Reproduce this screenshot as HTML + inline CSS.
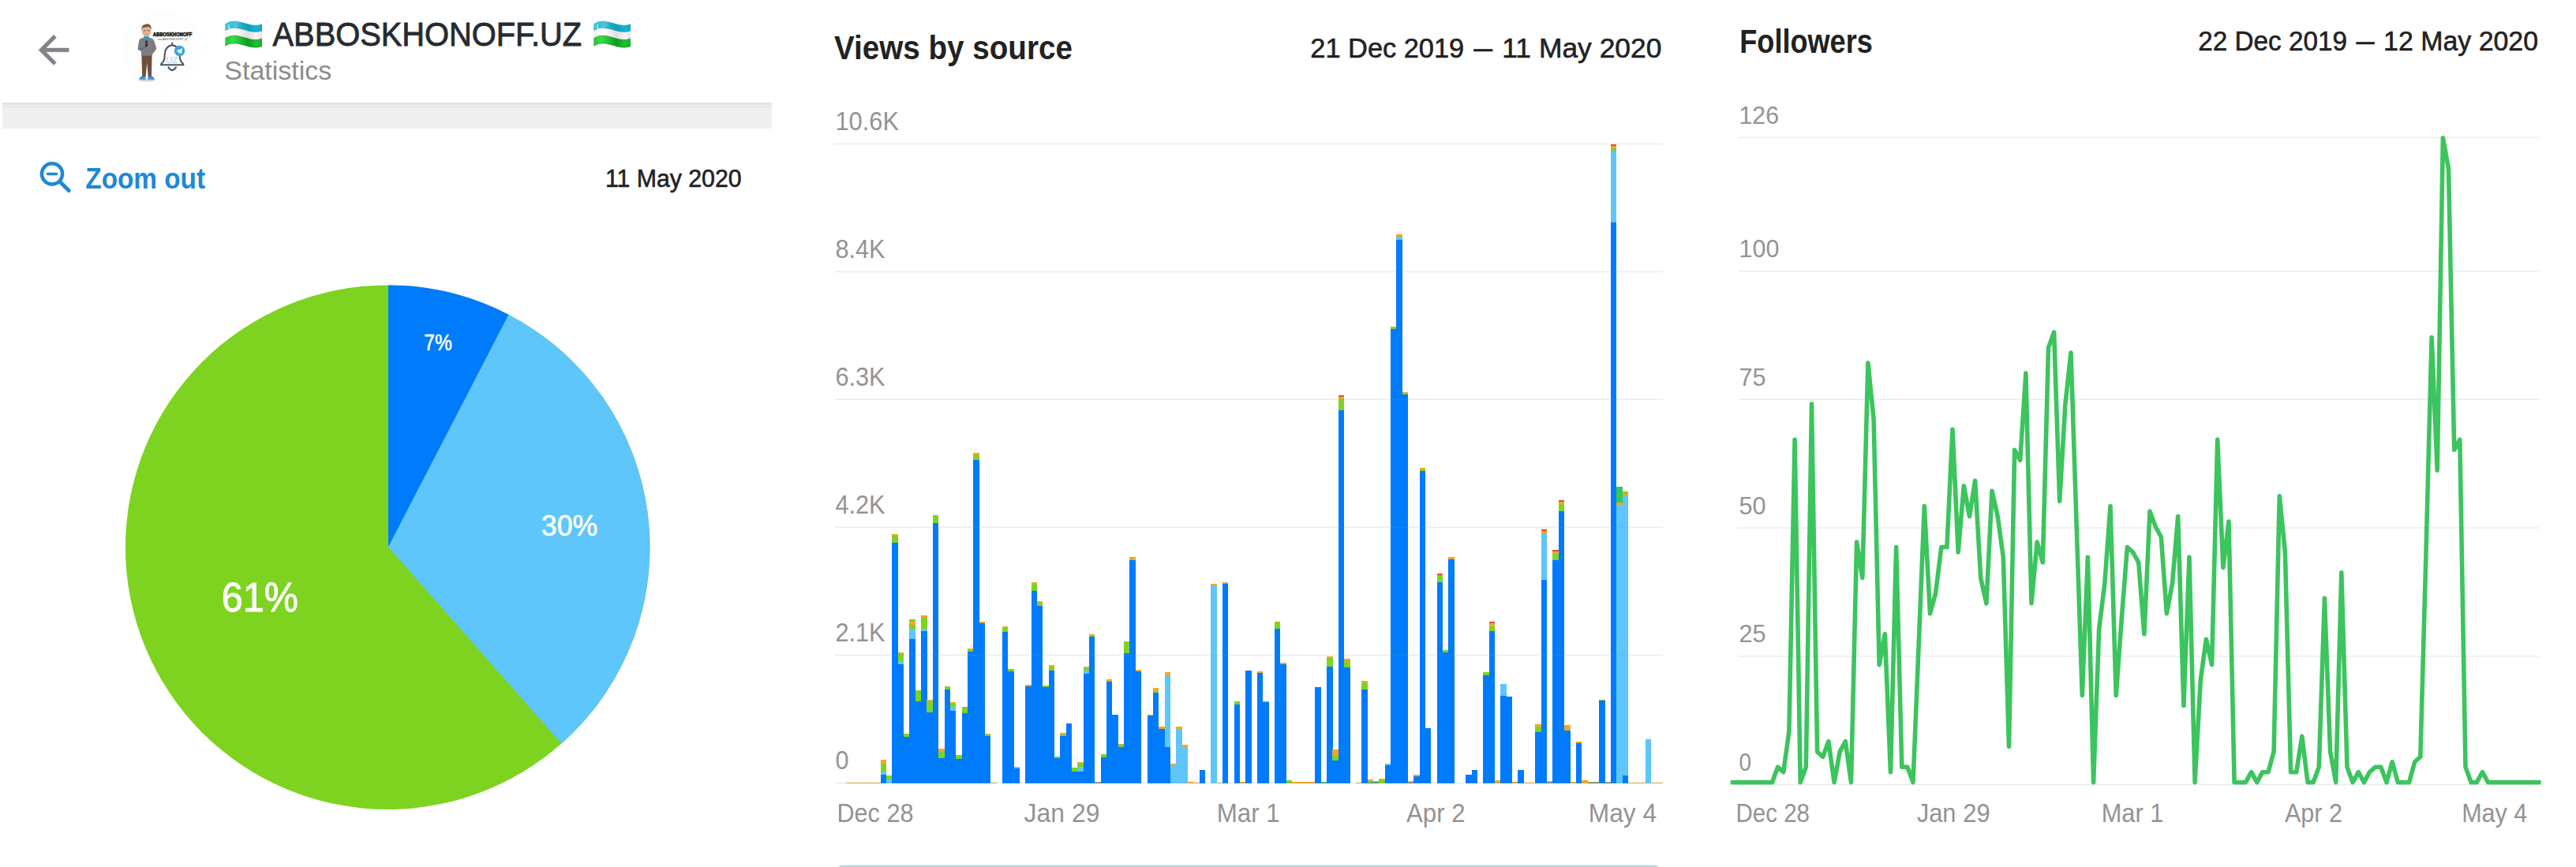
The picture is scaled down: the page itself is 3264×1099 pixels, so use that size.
<!DOCTYPE html>
<html lang="en"><head><meta charset="utf-8"><title>ABBOSKHONOFF.UZ — Statistics</title>
<style>
html,body{margin:0;padding:0;background:#ffffff;}
body{width:3264px;height:1099px;overflow:hidden;font-family:'Liberation Sans', sans-serif;}
svg{display:block;font-family:'Liberation Sans', sans-serif;}
</style></head><body>
<svg width="3264" height="1099" viewBox="0 0 3264 1099">
<rect width="3264" height="1099" fill="#ffffff"/>
<g transform="translate(39.4,34.7) scale(2.39)"><path fill="#808388" stroke="#808388" stroke-width="0.18" d="M20 11H7.83l5.59-5.59L12 4l-8 8 8 8 1.41-1.41L7.83 13H20v-2z"/></g>
<g id="avatar">
<circle cx="206" cy="64" r="50" fill="#fdfdfd"/>
<ellipse cx="186" cy="101.3" rx="11" ry="1.9" fill="#d2d2d2"/>
<path d="M176.3 100.8 q0.500 -3.800 4.600 -4.600 l3.300 0.300 l0.300 4.300 z M187.400 100.800 l0.400 -4.300 l3.300 -0.300 q4 0.800 4.800 4.600 z" fill="#3b8fd9"/>
<path d="M179.400 69.500 L192.600 69.500 L192.300 80 L191.900 97 L187.700 97 L186.300 79.500 L184.600 97 L180.300 97 L179.700 82 Z" fill="#6f4e3a"/>
<path d="M179 48.600 q6.300 -1.600 13 0 q2.600 0.700 3.300 3.300 l2.800 8.600 q0.500 1.700 -0.800 2.900 l-3.900 4.800 l-0.500 2.600 l-13.800 0 l-0.300 -6 l-3.600 -1.600 q-0.900 -0.600 -0.600 -1.800 l1.500 -9.600 q0.500 -2.500 2.900 -3.200 z" fill="#7c7f82"/>
<path d="M176.300 61.500 l8.800 -3.600 l1 2.200 l-8.600 4 z" fill="#6b6e71"/>
<path d="M193.300 52.500 l1.700 8 l-2.400 4.500" fill="none" stroke="#67696c" stroke-width="0.700"/>
<path d="M181.600 47.300 l3.900 5.200 l3.900 -5.200 l-1.300 -1.300 l-5.200 0 z" fill="#2a9cc4"/>
<path d="M184.300 51.500 h2.600 l0.500 6.300 l-1.800 1.600 l-1.800 -1.600 z" fill="#3a2b2b"/>
<rect x="184.600" y="54.300" width="2.100" height="1.500" fill="#c0392b"/>
<ellipse cx="185.500" cy="39.600" rx="5.900" ry="7" fill="#e3b591"/>
<path d="M179.300 38.500 q-0.600 -6.800 4.400 -7.600 q2.500 -1.100 5.300 -0.200 q3.100 1.300 2.700 7.200 q-1.200 -3.200 -3 -4 q-4.600 0.300 -7.900 1.400 q-1.200 1.400 -1.500 3.200 z" fill="#7b5a3f"/>
<path d="M181.800 38.800 h2.600 M186.700 38.800 h2.600" stroke="#4a3424" stroke-width="0.800" fill="none"/>
<path d="M183.800 43.700 q1.700 0.800 3.400 0" stroke="#a8694e" stroke-width="0.600" fill="none"/>
<text x="193.800" y="46.100" font-size="6.300" font-weight="bold" fill="#111" textLength="49.400" lengthAdjust="spacingAndGlyphs" stroke="#111" stroke-width="0.500">ABBOSKHONOFF</text>
<text x="199.400" y="50.800" font-size="3" fill="#555" textLength="38.600" lengthAdjust="spacingAndGlyphs">t.me/ABBOSKHONOFF_UZ</text>
<path d="M204 82.300 q0 -1.600 2 -3.100 q2.700 -2.600 2.700 -9.700 q0 -10.500 9.500 -12.400 l0 -2.600 l0 2.600 q9.500 1.900 9.500 12.400 q0 7.100 2.700 9.700 q2 1.500 2 3.100 z" fill="none" stroke="#4b5567" stroke-width="2.100" stroke-linejoin="round" stroke-linecap="round"/>
<path d="M213.400 85.300 q4.800 7.600 9.600 0" fill="none" stroke="#4b5567" stroke-width="2.100" stroke-linecap="round"/>
<text x="210.400" y="79.600" font-size="10" fill="#a9d4f0" textLength="15" lengthAdjust="spacingAndGlyphs">UZ</text>
<circle cx="227.500" cy="64.400" r="6.700" fill="#3aa3e3"/>
<path d="M223.300 64.600 l8 -3.300 l-1.600 7 l-2.400 -1.900 l-1.300 1.300 l-0.200 -2.100 z" fill="#ffffff"/>
</g>
<defs>
<linearGradient id="fgB" x1="0" x2="1" y1="0" y2="0"><stop offset="0" stop-color="#3fc4dc"/><stop offset="0.25" stop-color="#39bfd8"/><stop offset="0.62" stop-color="#0d9fbd"/><stop offset="0.85" stop-color="#18b6d2"/><stop offset="1" stop-color="#10a9c6"/></linearGradient>
<linearGradient id="fgW" x1="0" x2="1" y1="0" y2="0"><stop offset="0" stop-color="#efefef"/><stop offset="0.25" stop-color="#ffffff"/><stop offset="0.62" stop-color="#dedede"/><stop offset="0.85" stop-color="#f6f6f6"/><stop offset="1" stop-color="#e6e6e6"/></linearGradient>
<linearGradient id="fgG" x1="0" x2="1" y1="0" y2="0"><stop offset="0" stop-color="#22c535"/><stop offset="0.22" stop-color="#35dd49"/><stop offset="0.62" stop-color="#0e9a1e"/><stop offset="0.85" stop-color="#1fc232"/><stop offset="1" stop-color="#17ad29"/></linearGradient>
</defs>
<g transform="translate(285.3,0)" role="img" aria-label="flag: Uzbekistan"><title>&#127482;&#127487;</title>
<path d="M0.00 30.20 L2.03 28.97 L4.06 28.03 L6.09 27.36 L8.12 26.94 L10.15 26.73 L12.18 26.71 L14.21 26.85 L16.24 27.14 L18.27 27.53 L20.30 28.01 L22.33 28.55 L24.37 29.12 L26.40 29.70 L28.43 30.26 L30.46 30.78 L32.49 31.23 L34.52 31.59 L36.55 31.83 L38.58 31.93 L40.61 31.86 L42.64 31.60 L44.67 31.12 L46.70 30.40 L46.70 39.40 L44.67 40.12 L42.64 40.60 L40.61 40.86 L38.58 40.93 L36.55 40.83 L34.52 40.59 L32.49 40.23 L30.46 39.78 L28.43 39.26 L26.40 38.70 L24.37 38.12 L22.33 37.55 L20.30 37.01 L18.27 36.53 L16.24 36.14 L14.21 35.85 L12.18 35.71 L10.15 35.73 L8.12 35.94 L6.09 36.36 L4.06 37.03 L2.03 37.97 L0.00 39.20Z" fill="url(#fgB)"/>
<path d="M0.00 38.80 L2.03 37.57 L4.06 36.63 L6.09 35.96 L8.12 35.54 L10.15 35.33 L12.18 35.31 L14.21 35.45 L16.24 35.74 L18.27 36.13 L20.30 36.61 L22.33 37.15 L24.37 37.72 L26.40 38.30 L28.43 38.86 L30.46 39.38 L32.49 39.83 L34.52 40.19 L36.55 40.43 L38.58 40.53 L40.61 40.46 L42.64 40.20 L44.67 39.72 L46.70 39.00 L46.70 49.20 L44.67 49.92 L42.64 50.40 L40.61 50.66 L38.58 50.73 L36.55 50.63 L34.52 50.39 L32.49 50.03 L30.46 49.58 L28.43 49.06 L26.40 48.50 L24.37 47.92 L22.33 47.35 L20.30 46.81 L18.27 46.33 L16.24 45.94 L14.21 45.65 L12.18 45.51 L10.15 45.53 L8.12 45.74 L6.09 46.16 L4.06 46.83 L2.03 47.77 L0.00 49.00Z" fill="url(#fgW)"/>
<path d="M0.00 48.60 L2.03 47.37 L4.06 46.43 L6.09 45.76 L8.12 45.34 L10.15 45.13 L12.18 45.11 L14.21 45.25 L16.24 45.54 L18.27 45.93 L20.30 46.41 L22.33 46.95 L24.37 47.52 L26.40 48.10 L28.43 48.66 L30.46 49.18 L32.49 49.63 L34.52 49.99 L36.55 50.23 L38.58 50.33 L40.61 50.26 L42.64 50.00 L44.67 49.52 L46.70 48.80 L46.70 58.80 L44.67 59.52 L42.64 60.00 L40.61 60.26 L38.58 60.33 L36.55 60.23 L34.52 59.99 L32.49 59.63 L30.46 59.18 L28.43 58.66 L26.40 58.10 L24.37 57.52 L22.33 56.95 L20.30 56.41 L18.27 55.93 L16.24 55.54 L14.21 55.25 L12.18 55.11 L10.15 55.13 L8.12 55.34 L6.09 55.76 L4.06 56.43 L2.03 57.37 L0.00 58.60Z" fill="url(#fgG)"/>
<path d="M0.00 38.50 L2.03 37.27 L4.06 36.33 L6.09 35.66 L8.12 35.24 L10.15 35.03 L12.18 35.01 L14.21 35.15 L16.24 35.44 L18.27 35.83 L20.30 36.31 L22.33 36.85 L24.37 37.42 L26.40 38.00 L28.43 38.56 L30.46 39.08 L32.49 39.53 L34.52 39.89 L36.55 40.13 L38.58 40.23 L40.61 40.16 L42.64 39.90 L44.67 39.42 L46.70 38.70 L46.70 39.40 L44.67 40.12 L42.64 40.60 L40.61 40.86 L38.58 40.93 L36.55 40.83 L34.52 40.59 L32.49 40.23 L30.46 39.78 L28.43 39.26 L26.40 38.70 L24.37 38.12 L22.33 37.55 L20.30 37.01 L18.27 36.53 L16.24 36.14 L14.21 35.85 L12.18 35.71 L10.15 35.73 L8.12 35.94 L6.09 36.36 L4.06 37.03 L2.03 37.97 L0.00 39.20Z" fill="#0b6f86" opacity="0.55"/>
<path d="M0.00 48.30 L2.03 47.07 L4.06 46.13 L6.09 45.46 L8.12 45.04 L10.15 44.83 L12.18 44.81 L14.21 44.95 L16.24 45.24 L18.27 45.63 L20.30 46.11 L22.33 46.65 L24.37 47.22 L26.40 47.80 L28.43 48.36 L30.46 48.88 L32.49 49.33 L34.52 49.69 L36.55 49.93 L38.58 50.03 L40.61 49.96 L42.64 49.70 L44.67 49.22 L46.70 48.50 L46.70 49.20 L44.67 49.92 L42.64 50.40 L40.61 50.66 L38.58 50.73 L36.55 50.63 L34.52 50.39 L32.49 50.03 L30.46 49.58 L28.43 49.06 L26.40 48.50 L24.37 47.92 L22.33 47.35 L20.30 46.81 L18.27 46.33 L16.24 45.94 L14.21 45.65 L12.18 45.51 L10.15 45.53 L8.12 45.74 L6.09 46.16 L4.06 46.83 L2.03 47.77 L0.00 49.00Z" fill="#3d5a2a" opacity="0.55"/>
<path d="M0.00 58.00 L2.03 56.77 L4.06 55.83 L6.09 55.16 L8.12 54.74 L10.15 54.53 L12.18 54.51 L14.21 54.65 L16.24 54.94 L18.27 55.33 L20.30 55.81 L22.33 56.35 L24.37 56.92 L26.40 57.50 L28.43 58.06 L30.46 58.58 L32.49 59.03 L34.52 59.39 L36.55 59.63 L38.58 59.73 L40.61 59.66 L42.64 59.40 L44.67 58.92 L46.70 58.20 L46.70 58.90 L44.67 59.62 L42.64 60.10 L40.61 60.36 L38.58 60.43 L36.55 60.33 L34.52 60.09 L32.49 59.73 L30.46 59.28 L28.43 58.76 L26.40 58.20 L24.37 57.62 L22.33 57.05 L20.30 56.51 L18.27 56.03 L16.24 55.64 L14.21 55.35 L12.18 55.21 L10.15 55.23 L8.12 55.44 L6.09 55.86 L4.06 56.53 L2.03 57.47 L0.00 58.70Z" fill="#0a7a17" opacity="0.6"/>
<path d="M7.5 30.200 a3.400 3.400 0 1 0 1.500 6.200 a3 3 0 1 1 -1.500 -6.200z" fill="#d8f7ff" opacity="0.850"/>
<circle cx="11.5" cy="28.93" r="0.550" fill="#d8f7ff" opacity="0.800"/>
<circle cx="11.5" cy="31.32" r="0.550" fill="#d8f7ff" opacity="0.800"/>
<circle cx="11.5" cy="33.73" r="0.550" fill="#d8f7ff" opacity="0.800"/>
<circle cx="14" cy="28.55" r="0.550" fill="#d8f7ff" opacity="0.800"/>
<circle cx="14" cy="30.95" r="0.550" fill="#d8f7ff" opacity="0.800"/>
<circle cx="14" cy="33.35" r="0.550" fill="#d8f7ff" opacity="0.800"/>
<circle cx="16.5" cy="28.18" r="0.550" fill="#d8f7ff" opacity="0.800"/>
<circle cx="16.5" cy="30.57" r="0.550" fill="#d8f7ff" opacity="0.800"/>
<circle cx="16.5" cy="32.98" r="0.550" fill="#d8f7ff" opacity="0.800"/>
</g>
<g transform="translate(752.3,0)" role="img" aria-label="flag: Uzbekistan"><title>&#127482;&#127487;</title>
<path d="M0.00 30.20 L2.03 28.97 L4.06 28.03 L6.09 27.36 L8.12 26.94 L10.15 26.73 L12.18 26.71 L14.21 26.85 L16.24 27.14 L18.27 27.53 L20.30 28.01 L22.33 28.55 L24.37 29.12 L26.40 29.70 L28.43 30.26 L30.46 30.78 L32.49 31.23 L34.52 31.59 L36.55 31.83 L38.58 31.93 L40.61 31.86 L42.64 31.60 L44.67 31.12 L46.70 30.40 L46.70 39.40 L44.67 40.12 L42.64 40.60 L40.61 40.86 L38.58 40.93 L36.55 40.83 L34.52 40.59 L32.49 40.23 L30.46 39.78 L28.43 39.26 L26.40 38.70 L24.37 38.12 L22.33 37.55 L20.30 37.01 L18.27 36.53 L16.24 36.14 L14.21 35.85 L12.18 35.71 L10.15 35.73 L8.12 35.94 L6.09 36.36 L4.06 37.03 L2.03 37.97 L0.00 39.20Z" fill="url(#fgB)"/>
<path d="M0.00 38.80 L2.03 37.57 L4.06 36.63 L6.09 35.96 L8.12 35.54 L10.15 35.33 L12.18 35.31 L14.21 35.45 L16.24 35.74 L18.27 36.13 L20.30 36.61 L22.33 37.15 L24.37 37.72 L26.40 38.30 L28.43 38.86 L30.46 39.38 L32.49 39.83 L34.52 40.19 L36.55 40.43 L38.58 40.53 L40.61 40.46 L42.64 40.20 L44.67 39.72 L46.70 39.00 L46.70 49.20 L44.67 49.92 L42.64 50.40 L40.61 50.66 L38.58 50.73 L36.55 50.63 L34.52 50.39 L32.49 50.03 L30.46 49.58 L28.43 49.06 L26.40 48.50 L24.37 47.92 L22.33 47.35 L20.30 46.81 L18.27 46.33 L16.24 45.94 L14.21 45.65 L12.18 45.51 L10.15 45.53 L8.12 45.74 L6.09 46.16 L4.06 46.83 L2.03 47.77 L0.00 49.00Z" fill="url(#fgW)"/>
<path d="M0.00 48.60 L2.03 47.37 L4.06 46.43 L6.09 45.76 L8.12 45.34 L10.15 45.13 L12.18 45.11 L14.21 45.25 L16.24 45.54 L18.27 45.93 L20.30 46.41 L22.33 46.95 L24.37 47.52 L26.40 48.10 L28.43 48.66 L30.46 49.18 L32.49 49.63 L34.52 49.99 L36.55 50.23 L38.58 50.33 L40.61 50.26 L42.64 50.00 L44.67 49.52 L46.70 48.80 L46.70 58.80 L44.67 59.52 L42.64 60.00 L40.61 60.26 L38.58 60.33 L36.55 60.23 L34.52 59.99 L32.49 59.63 L30.46 59.18 L28.43 58.66 L26.40 58.10 L24.37 57.52 L22.33 56.95 L20.30 56.41 L18.27 55.93 L16.24 55.54 L14.21 55.25 L12.18 55.11 L10.15 55.13 L8.12 55.34 L6.09 55.76 L4.06 56.43 L2.03 57.37 L0.00 58.60Z" fill="url(#fgG)"/>
<path d="M0.00 38.50 L2.03 37.27 L4.06 36.33 L6.09 35.66 L8.12 35.24 L10.15 35.03 L12.18 35.01 L14.21 35.15 L16.24 35.44 L18.27 35.83 L20.30 36.31 L22.33 36.85 L24.37 37.42 L26.40 38.00 L28.43 38.56 L30.46 39.08 L32.49 39.53 L34.52 39.89 L36.55 40.13 L38.58 40.23 L40.61 40.16 L42.64 39.90 L44.67 39.42 L46.70 38.70 L46.70 39.40 L44.67 40.12 L42.64 40.60 L40.61 40.86 L38.58 40.93 L36.55 40.83 L34.52 40.59 L32.49 40.23 L30.46 39.78 L28.43 39.26 L26.40 38.70 L24.37 38.12 L22.33 37.55 L20.30 37.01 L18.27 36.53 L16.24 36.14 L14.21 35.85 L12.18 35.71 L10.15 35.73 L8.12 35.94 L6.09 36.36 L4.06 37.03 L2.03 37.97 L0.00 39.20Z" fill="#0b6f86" opacity="0.55"/>
<path d="M0.00 48.30 L2.03 47.07 L4.06 46.13 L6.09 45.46 L8.12 45.04 L10.15 44.83 L12.18 44.81 L14.21 44.95 L16.24 45.24 L18.27 45.63 L20.30 46.11 L22.33 46.65 L24.37 47.22 L26.40 47.80 L28.43 48.36 L30.46 48.88 L32.49 49.33 L34.52 49.69 L36.55 49.93 L38.58 50.03 L40.61 49.96 L42.64 49.70 L44.67 49.22 L46.70 48.50 L46.70 49.20 L44.67 49.92 L42.64 50.40 L40.61 50.66 L38.58 50.73 L36.55 50.63 L34.52 50.39 L32.49 50.03 L30.46 49.58 L28.43 49.06 L26.40 48.50 L24.37 47.92 L22.33 47.35 L20.30 46.81 L18.27 46.33 L16.24 45.94 L14.21 45.65 L12.18 45.51 L10.15 45.53 L8.12 45.74 L6.09 46.16 L4.06 46.83 L2.03 47.77 L0.00 49.00Z" fill="#3d5a2a" opacity="0.55"/>
<path d="M0.00 58.00 L2.03 56.77 L4.06 55.83 L6.09 55.16 L8.12 54.74 L10.15 54.53 L12.18 54.51 L14.21 54.65 L16.24 54.94 L18.27 55.33 L20.30 55.81 L22.33 56.35 L24.37 56.92 L26.40 57.50 L28.43 58.06 L30.46 58.58 L32.49 59.03 L34.52 59.39 L36.55 59.63 L38.58 59.73 L40.61 59.66 L42.64 59.40 L44.67 58.92 L46.70 58.20 L46.70 58.90 L44.67 59.62 L42.64 60.10 L40.61 60.36 L38.58 60.43 L36.55 60.33 L34.52 60.09 L32.49 59.73 L30.46 59.28 L28.43 58.76 L26.40 58.20 L24.37 57.62 L22.33 57.05 L20.30 56.51 L18.27 56.03 L16.24 55.64 L14.21 55.35 L12.18 55.21 L10.15 55.23 L8.12 55.44 L6.09 55.86 L4.06 56.53 L2.03 57.47 L0.00 58.70Z" fill="#0a7a17" opacity="0.6"/>
<path d="M7.5 30.200 a3.400 3.400 0 1 0 1.500 6.200 a3 3 0 1 1 -1.500 -6.200z" fill="#d8f7ff" opacity="0.850"/>
<circle cx="11.5" cy="28.93" r="0.550" fill="#d8f7ff" opacity="0.800"/>
<circle cx="11.5" cy="31.32" r="0.550" fill="#d8f7ff" opacity="0.800"/>
<circle cx="11.5" cy="33.73" r="0.550" fill="#d8f7ff" opacity="0.800"/>
<circle cx="14" cy="28.55" r="0.550" fill="#d8f7ff" opacity="0.800"/>
<circle cx="14" cy="30.95" r="0.550" fill="#d8f7ff" opacity="0.800"/>
<circle cx="14" cy="33.35" r="0.550" fill="#d8f7ff" opacity="0.800"/>
<circle cx="16.5" cy="28.18" r="0.550" fill="#d8f7ff" opacity="0.800"/>
<circle cx="16.5" cy="30.57" r="0.550" fill="#d8f7ff" opacity="0.800"/>
<circle cx="16.5" cy="32.98" r="0.550" fill="#d8f7ff" opacity="0.800"/>
</g>
<text x="345.55" y="57.60" font-size="43" fill="#262b31" textLength="391.59" lengthAdjust="spacingAndGlyphs" stroke="#262b31" stroke-width="0.9">ABBOSKHONOFF.UZ</text>
<text x="284.30" y="100.90" font-size="33.3" fill="#8c8c8c" textLength="135.93" lengthAdjust="spacingAndGlyphs">Statistics</text>
<rect x="3" y="130" width="975" height="33" fill="#efefef"/>
<rect x="3" y="130" width="975" height="3" fill="#e3e3e3"/>
<rect x="3" y="133" width="975" height="1" fill="#f1f1f1"/>
<rect x="3" y="134" width="975" height="1.500" fill="#e5e5e5"/>
<rect x="3" y="135.500" width="975" height="1.500" fill="#ebebeb"/>
<g fill="none" stroke="#1e88d6" stroke-linecap="round"><circle cx="66" cy="220.300" r="13.100" stroke-width="4.500"/><path d="M76 230.500 L87.200 241.500" stroke-width="5"/><path d="M60.500 220.500 H71.500" stroke-width="3.600"/></g>
<text x="108.30" y="238.80" font-size="36" fill="#1e88d6" font-weight="bold" textLength="151.68" lengthAdjust="spacingAndGlyphs">Zoom out</text>
<text x="766.90" y="237.10" font-size="30.8" fill="#222222" textLength="172.73" lengthAdjust="spacingAndGlyphs" stroke="#222222" stroke-width="0.6">11 May 2020</text>
<circle cx="491.2" cy="693.7" r="332.3" fill="#7ed321"/>
<path d="M492.00 693.20 L641.85 397.51 A332.3 332.3 0 0 1 711.39 942.58 Z" fill="#5ec6fa"/>
<path d="M492.00 693.20 L492.01 361.40 A332.3 332.3 0 0 1 644.43 398.84 Z" fill="#007bfc"/>
<text x="537.30" y="444.00" font-size="29.6" fill="#ffffff" textLength="35.41" lengthAdjust="spacingAndGlyphs" stroke="#ffffff" stroke-width="0.6">7%</text>
<text x="685.85" y="679.30" font-size="36.7" fill="#ffffff" textLength="71.35" lengthAdjust="spacingAndGlyphs" stroke="#ffffff" stroke-width="0.7">30%</text>
<text x="280.85" y="774.50" font-size="51.8" fill="#ffffff" textLength="97.17" lengthAdjust="spacingAndGlyphs" stroke="#ffffff" stroke-width="0.9">61%</text>
<text x="1057.00" y="75.20" font-size="42" fill="#222222" font-weight="bold" textLength="301.86" lengthAdjust="spacingAndGlyphs">Views by source</text>
<text y="72.80" font-size="35.8" fill="#222222" stroke="#222222" stroke-width="0.6" xml:space="preserve"><tspan x="1660.30" textLength="194.93" lengthAdjust="spacingAndGlyphs">21 Dec 2019</tspan><tspan x="1859.30" font-size="1"> </tspan><tspan x="1867.30" textLength="23.80" lengthAdjust="spacingAndGlyphs">—</tspan><tspan x="1893.10" font-size="1"> </tspan><tspan x="1903.30" textLength="202.12" lengthAdjust="spacingAndGlyphs">11 May 2020</tspan></text>
<g shape-rendering="crispEdges">
<rect x="1071.69" y="991.50" width="7.39" height="1.00" fill="#f5a623"/>
<rect x="1071.69" y="992.50" width="7.39" height="0.20" fill="#007bfc"/>
<rect x="1079.03" y="991.50" width="7.39" height="1.00" fill="#f5a623"/>
<rect x="1079.03" y="992.50" width="7.39" height="0.20" fill="#007bfc"/>
<rect x="1086.37" y="991.50" width="7.39" height="1.20" fill="#f5a623"/>
<rect x="1093.71" y="991.50" width="7.39" height="1.20" fill="#f5a623"/>
<rect x="1101.06" y="991.50" width="7.39" height="1.20" fill="#f5a623"/>
<rect x="1108.40" y="991.50" width="7.39" height="1.20" fill="#f5a623"/>
<rect x="1115.74" y="962.86" width="7.39" height="5.00" fill="#f5a623"/>
<rect x="1115.74" y="967.86" width="7.39" height="10.00" fill="#7ed321"/>
<rect x="1115.74" y="977.86" width="7.39" height="4.50" fill="#5ec6fa"/>
<rect x="1115.74" y="982.36" width="7.39" height="10.34" fill="#007bfc"/>
<rect x="1123.08" y="983.46" width="7.39" height="5.00" fill="#7ed321"/>
<rect x="1123.08" y="988.46" width="7.39" height="4.24" fill="#5ec6fa"/>
<rect x="1130.43" y="677.16" width="7.39" height="2.00" fill="#f5a623"/>
<rect x="1130.43" y="679.16" width="7.39" height="9.00" fill="#7ed321"/>
<rect x="1130.43" y="688.16" width="7.39" height="304.54" fill="#007bfc"/>
<rect x="1137.77" y="827.33" width="7.39" height="1.00" fill="#f5a623"/>
<rect x="1137.77" y="828.33" width="7.39" height="10.00" fill="#7ed321"/>
<rect x="1137.77" y="838.33" width="7.39" height="4.00" fill="#5ec6fa"/>
<rect x="1137.77" y="842.33" width="7.39" height="150.37" fill="#007bfc"/>
<rect x="1145.11" y="930.33" width="7.39" height="4.00" fill="#7ed321"/>
<rect x="1145.11" y="934.33" width="7.39" height="58.37" fill="#007bfc"/>
<rect x="1152.45" y="785.04" width="7.39" height="3.00" fill="#7ed321"/>
<rect x="1152.45" y="788.04" width="7.39" height="4.00" fill="#f5a623"/>
<rect x="1152.45" y="792.04" width="7.39" height="5.00" fill="#7ed321"/>
<rect x="1152.45" y="797.04" width="7.39" height="12.50" fill="#5ec6fa"/>
<rect x="1152.45" y="809.54" width="7.39" height="183.16" fill="#007bfc"/>
<rect x="1159.80" y="875.03" width="7.39" height="14.00" fill="#7ed321"/>
<rect x="1159.80" y="889.03" width="7.39" height="103.67" fill="#007bfc"/>
<rect x="1167.14" y="780.16" width="7.39" height="3.00" fill="#f5a623"/>
<rect x="1167.14" y="783.16" width="7.39" height="14.00" fill="#7ed321"/>
<rect x="1167.14" y="797.16" width="7.39" height="3.00" fill="#5ec6fa"/>
<rect x="1167.14" y="800.16" width="7.39" height="192.54" fill="#007bfc"/>
<rect x="1174.48" y="886.96" width="7.39" height="2.00" fill="#f5a623"/>
<rect x="1174.48" y="888.96" width="7.39" height="14.50" fill="#7ed321"/>
<rect x="1174.48" y="903.46" width="7.39" height="89.24" fill="#007bfc"/>
<rect x="1181.83" y="652.76" width="7.39" height="10.00" fill="#7ed321"/>
<rect x="1181.83" y="662.76" width="7.39" height="329.94" fill="#007bfc"/>
<rect x="1189.17" y="949.30" width="7.39" height="4.00" fill="#f5a623"/>
<rect x="1189.17" y="953.30" width="7.39" height="8.00" fill="#7ed321"/>
<rect x="1189.17" y="961.30" width="7.39" height="31.40" fill="#007bfc"/>
<rect x="1196.51" y="869.61" width="7.39" height="4.00" fill="#7ed321"/>
<rect x="1196.51" y="873.61" width="7.39" height="119.09" fill="#007bfc"/>
<rect x="1203.85" y="889.67" width="7.39" height="2.00" fill="#f5a623"/>
<rect x="1203.85" y="891.67" width="7.39" height="4.00" fill="#7ed321"/>
<rect x="1203.85" y="895.67" width="7.39" height="5.50" fill="#5ec6fa"/>
<rect x="1203.85" y="901.17" width="7.39" height="91.53" fill="#007bfc"/>
<rect x="1211.20" y="957.43" width="7.39" height="5.00" fill="#7ed321"/>
<rect x="1211.20" y="962.43" width="7.39" height="30.27" fill="#007bfc"/>
<rect x="1218.54" y="896.17" width="7.39" height="8.00" fill="#7ed321"/>
<rect x="1218.54" y="904.17" width="7.39" height="88.53" fill="#007bfc"/>
<rect x="1225.88" y="821.90" width="7.39" height="2.00" fill="#f5a623"/>
<rect x="1225.88" y="823.90" width="7.39" height="2.00" fill="#7ed321"/>
<rect x="1225.88" y="825.90" width="7.39" height="166.80" fill="#007bfc"/>
<rect x="1233.22" y="573.61" width="7.39" height="3.50" fill="#f5a623"/>
<rect x="1233.22" y="577.11" width="7.39" height="6.00" fill="#7ed321"/>
<rect x="1233.22" y="583.11" width="7.39" height="409.59" fill="#007bfc"/>
<rect x="1240.57" y="788.29" width="7.39" height="1.50" fill="#f5a623"/>
<rect x="1240.57" y="789.79" width="7.39" height="202.91" fill="#007bfc"/>
<rect x="1247.91" y="930.33" width="7.39" height="1.00" fill="#f5a623"/>
<rect x="1247.91" y="931.33" width="7.39" height="1.50" fill="#7ed321"/>
<rect x="1247.91" y="932.83" width="7.39" height="59.87" fill="#007bfc"/>
<rect x="1255.25" y="991.59" width="7.39" height="1.00" fill="#7ed321"/>
<rect x="1255.25" y="992.59" width="7.39" height="0.11" fill="#007bfc"/>
<rect x="1269.94" y="793.71" width="7.39" height="2.50" fill="#f5a623"/>
<rect x="1269.94" y="796.21" width="7.39" height="5.00" fill="#7ed321"/>
<rect x="1269.94" y="801.21" width="7.39" height="191.49" fill="#007bfc"/>
<rect x="1277.28" y="847.93" width="7.39" height="3.50" fill="#7ed321"/>
<rect x="1277.28" y="851.43" width="7.39" height="141.27" fill="#007bfc"/>
<rect x="1284.62" y="972.07" width="7.39" height="1.50" fill="#5ec6fa"/>
<rect x="1284.62" y="973.57" width="7.39" height="19.13" fill="#007bfc"/>
<rect x="1299.31" y="867.98" width="7.39" height="2.50" fill="#f5a623"/>
<rect x="1299.31" y="870.48" width="7.39" height="122.22" fill="#007bfc"/>
<rect x="1306.65" y="737.87" width="7.39" height="2.00" fill="#f5a623"/>
<rect x="1306.65" y="739.87" width="7.39" height="9.50" fill="#7ed321"/>
<rect x="1306.65" y="749.37" width="7.39" height="243.33" fill="#007bfc"/>
<rect x="1313.99" y="762.27" width="7.39" height="2.00" fill="#f5a623"/>
<rect x="1313.99" y="764.27" width="7.39" height="4.00" fill="#7ed321"/>
<rect x="1313.99" y="768.27" width="7.39" height="224.43" fill="#007bfc"/>
<rect x="1321.34" y="869.07" width="7.39" height="2.00" fill="#7ed321"/>
<rect x="1321.34" y="871.07" width="7.39" height="121.63" fill="#007bfc"/>
<rect x="1328.68" y="842.50" width="7.39" height="2.50" fill="#f5a623"/>
<rect x="1328.68" y="845.00" width="7.39" height="5.00" fill="#7ed321"/>
<rect x="1328.68" y="850.00" width="7.39" height="142.70" fill="#007bfc"/>
<rect x="1336.02" y="959.06" width="7.39" height="2.00" fill="#7ed321"/>
<rect x="1336.02" y="961.06" width="7.39" height="31.64" fill="#007bfc"/>
<rect x="1343.36" y="929.24" width="7.39" height="1.50" fill="#f5a623"/>
<rect x="1343.36" y="930.74" width="7.39" height="2.50" fill="#7ed321"/>
<rect x="1343.36" y="933.24" width="7.39" height="59.46" fill="#007bfc"/>
<rect x="1350.71" y="916.78" width="7.39" height="75.92" fill="#007bfc"/>
<rect x="1358.05" y="972.61" width="7.39" height="5.00" fill="#7ed321"/>
<rect x="1358.05" y="977.61" width="7.39" height="15.09" fill="#007bfc"/>
<rect x="1365.39" y="965.57" width="7.39" height="2.00" fill="#f5a623"/>
<rect x="1365.39" y="967.57" width="7.39" height="4.00" fill="#7ed321"/>
<rect x="1365.39" y="971.57" width="7.39" height="6.00" fill="#5ec6fa"/>
<rect x="1365.39" y="977.57" width="7.39" height="15.13" fill="#007bfc"/>
<rect x="1372.73" y="844.67" width="7.39" height="2.00" fill="#f5a623"/>
<rect x="1372.73" y="846.67" width="7.39" height="3.50" fill="#7ed321"/>
<rect x="1372.73" y="850.17" width="7.39" height="3.50" fill="#5ec6fa"/>
<rect x="1372.73" y="853.67" width="7.39" height="139.03" fill="#007bfc"/>
<rect x="1380.08" y="804.01" width="7.39" height="1.50" fill="#f5a623"/>
<rect x="1380.08" y="805.51" width="7.39" height="1.50" fill="#7ed321"/>
<rect x="1380.08" y="807.01" width="7.39" height="185.69" fill="#007bfc"/>
<rect x="1387.42" y="991.05" width="7.39" height="1.00" fill="#f5a623"/>
<rect x="1387.42" y="992.05" width="7.39" height="0.65" fill="#007bfc"/>
<rect x="1394.76" y="955.81" width="7.39" height="4.00" fill="#7ed321"/>
<rect x="1394.76" y="959.81" width="7.39" height="32.89" fill="#007bfc"/>
<rect x="1402.10" y="860.94" width="7.39" height="3.00" fill="#f5a623"/>
<rect x="1402.10" y="863.94" width="7.39" height="128.76" fill="#007bfc"/>
<rect x="1409.45" y="905.93" width="7.39" height="86.77" fill="#007bfc"/>
<rect x="1416.79" y="942.80" width="7.39" height="1.50" fill="#f5a623"/>
<rect x="1416.79" y="944.30" width="7.39" height="3.00" fill="#7ed321"/>
<rect x="1416.79" y="947.30" width="7.39" height="45.40" fill="#007bfc"/>
<rect x="1424.13" y="812.69" width="7.39" height="1.00" fill="#f5a623"/>
<rect x="1424.13" y="813.69" width="7.39" height="14.00" fill="#7ed321"/>
<rect x="1424.13" y="827.69" width="7.39" height="165.01" fill="#007bfc"/>
<rect x="1431.48" y="705.89" width="7.39" height="4.00" fill="#f5a623"/>
<rect x="1431.48" y="709.89" width="7.39" height="282.81" fill="#007bfc"/>
<rect x="1438.82" y="849.01" width="7.39" height="2.00" fill="#f5a623"/>
<rect x="1438.82" y="851.01" width="7.39" height="141.69" fill="#007bfc"/>
<rect x="1453.50" y="905.93" width="7.39" height="1.50" fill="#f5a623"/>
<rect x="1453.50" y="907.43" width="7.39" height="85.27" fill="#007bfc"/>
<rect x="1460.85" y="872.32" width="7.39" height="3.50" fill="#f5a623"/>
<rect x="1460.85" y="875.82" width="7.39" height="2.00" fill="#7ed321"/>
<rect x="1460.85" y="877.82" width="7.39" height="114.88" fill="#007bfc"/>
<rect x="1468.19" y="920.57" width="7.39" height="3.50" fill="#f5a623"/>
<rect x="1468.19" y="924.07" width="7.39" height="68.63" fill="#007bfc"/>
<rect x="1475.53" y="851.72" width="7.39" height="4.00" fill="#f5a623"/>
<rect x="1475.53" y="855.72" width="7.39" height="91.00" fill="#5ec6fa"/>
<rect x="1475.53" y="946.72" width="7.39" height="45.98" fill="#007bfc"/>
<rect x="1482.87" y="968.28" width="7.39" height="3.00" fill="#f5a623"/>
<rect x="1482.87" y="971.28" width="7.39" height="21.42" fill="#5ec6fa"/>
<rect x="1490.22" y="920.57" width="7.39" height="3.00" fill="#f5a623"/>
<rect x="1490.22" y="923.57" width="7.39" height="69.13" fill="#5ec6fa"/>
<rect x="1497.56" y="943.88" width="7.39" height="3.00" fill="#f5a623"/>
<rect x="1497.56" y="946.88" width="7.39" height="45.82" fill="#5ec6fa"/>
<rect x="1504.90" y="991.05" width="7.39" height="1.65" fill="#f5a623"/>
<rect x="1512.24" y="992.13" width="7.39" height="0.57" fill="#f5a623"/>
<rect x="1519.59" y="976.41" width="7.39" height="16.29" fill="#007bfc"/>
<rect x="1534.27" y="739.50" width="7.39" height="2.00" fill="#f5a623"/>
<rect x="1534.27" y="741.50" width="7.39" height="251.20" fill="#5ec6fa"/>
<rect x="1541.62" y="991.59" width="7.39" height="1.11" fill="#f5a623"/>
<rect x="1548.96" y="737.87" width="7.39" height="2.00" fill="#f5a623"/>
<rect x="1548.96" y="739.87" width="7.39" height="252.83" fill="#007bfc"/>
<rect x="1563.64" y="888.59" width="7.39" height="4.00" fill="#7ed321"/>
<rect x="1563.64" y="892.59" width="7.39" height="100.11" fill="#007bfc"/>
<rect x="1570.99" y="991.05" width="7.39" height="1.50" fill="#f5a623"/>
<rect x="1570.99" y="992.55" width="7.39" height="0.15" fill="#007bfc"/>
<rect x="1578.33" y="850.09" width="7.39" height="142.61" fill="#007bfc"/>
<rect x="1593.01" y="850.64" width="7.39" height="2.50" fill="#f5a623"/>
<rect x="1593.01" y="853.14" width="7.39" height="139.56" fill="#007bfc"/>
<rect x="1600.36" y="888.59" width="7.39" height="1.50" fill="#7ed321"/>
<rect x="1600.36" y="890.09" width="7.39" height="102.61" fill="#007bfc"/>
<rect x="1615.04" y="787.75" width="7.39" height="1.50" fill="#f5a623"/>
<rect x="1615.04" y="789.25" width="7.39" height="8.00" fill="#7ed321"/>
<rect x="1615.04" y="797.25" width="7.39" height="195.45" fill="#007bfc"/>
<rect x="1622.38" y="839.79" width="7.39" height="2.00" fill="#f5a623"/>
<rect x="1622.38" y="841.79" width="7.39" height="150.91" fill="#007bfc"/>
<rect x="1629.73" y="988.88" width="7.39" height="3.70" fill="#7ed321"/>
<rect x="1629.73" y="992.58" width="7.39" height="0.12" fill="#007bfc"/>
<rect x="1637.07" y="991.05" width="7.39" height="1.50" fill="#f5a623"/>
<rect x="1637.07" y="992.55" width="7.39" height="0.15" fill="#007bfc"/>
<rect x="1644.41" y="991.05" width="7.39" height="1.50" fill="#f5a623"/>
<rect x="1644.41" y="992.55" width="7.39" height="0.15" fill="#007bfc"/>
<rect x="1651.76" y="991.05" width="7.39" height="1.50" fill="#f5a623"/>
<rect x="1651.76" y="992.55" width="7.39" height="0.15" fill="#007bfc"/>
<rect x="1659.10" y="991.05" width="7.39" height="1.50" fill="#f5a623"/>
<rect x="1659.10" y="992.55" width="7.39" height="0.15" fill="#007bfc"/>
<rect x="1666.44" y="870.70" width="7.39" height="122.00" fill="#007bfc"/>
<rect x="1673.78" y="990.50" width="7.39" height="1.50" fill="#7ed321"/>
<rect x="1673.78" y="992.00" width="7.39" height="0.70" fill="#007bfc"/>
<rect x="1681.13" y="831.66" width="7.39" height="2.50" fill="#f5a623"/>
<rect x="1681.13" y="834.16" width="7.39" height="11.00" fill="#7ed321"/>
<rect x="1681.13" y="845.16" width="7.39" height="147.54" fill="#007bfc"/>
<rect x="1688.47" y="950.39" width="7.39" height="7.50" fill="#f5a623"/>
<rect x="1688.47" y="957.89" width="7.39" height="6.00" fill="#7ed321"/>
<rect x="1688.47" y="963.89" width="7.39" height="28.81" fill="#007bfc"/>
<rect x="1695.81" y="501.30" width="7.39" height="2.00" fill="#e94b35"/>
<rect x="1695.81" y="503.30" width="7.39" height="2.00" fill="#f5a623"/>
<rect x="1695.81" y="505.30" width="7.39" height="15.00" fill="#7ed321"/>
<rect x="1695.81" y="520.30" width="7.39" height="472.40" fill="#007bfc"/>
<rect x="1703.15" y="835.46" width="7.39" height="2.50" fill="#f5a623"/>
<rect x="1703.15" y="837.96" width="7.39" height="8.00" fill="#7ed321"/>
<rect x="1703.15" y="845.96" width="7.39" height="146.74" fill="#007bfc"/>
<rect x="1717.84" y="992.13" width="7.39" height="0.57" fill="#f5a623"/>
<rect x="1725.18" y="863.11" width="7.39" height="2.00" fill="#f5a623"/>
<rect x="1725.18" y="865.11" width="7.39" height="9.00" fill="#7ed321"/>
<rect x="1725.18" y="874.11" width="7.39" height="118.59" fill="#007bfc"/>
<rect x="1732.52" y="987.79" width="7.39" height="2.00" fill="#f5a623"/>
<rect x="1732.52" y="989.79" width="7.39" height="2.50" fill="#7ed321"/>
<rect x="1732.52" y="992.29" width="7.39" height="0.41" fill="#007bfc"/>
<rect x="1739.87" y="989.96" width="7.39" height="2.50" fill="#7ed321"/>
<rect x="1739.87" y="992.46" width="7.39" height="0.24" fill="#007bfc"/>
<rect x="1747.21" y="987.25" width="7.39" height="2.00" fill="#f5a623"/>
<rect x="1747.21" y="989.25" width="7.39" height="3.45" fill="#7ed321"/>
<rect x="1754.55" y="968.28" width="7.39" height="1.50" fill="#5ec6fa"/>
<rect x="1754.55" y="969.78" width="7.39" height="22.92" fill="#007bfc"/>
<rect x="1761.90" y="414.00" width="7.39" height="1.50" fill="#f5a623"/>
<rect x="1761.90" y="415.50" width="7.39" height="1.50" fill="#7ed321"/>
<rect x="1761.90" y="417.00" width="7.39" height="575.70" fill="#007bfc"/>
<rect x="1769.24" y="297.00" width="7.39" height="3.00" fill="#f5a623"/>
<rect x="1769.24" y="300.00" width="7.39" height="4.00" fill="#5ec6fa"/>
<rect x="1769.24" y="304.00" width="7.39" height="688.70" fill="#007bfc"/>
<rect x="1776.58" y="497.00" width="7.39" height="1.50" fill="#f5a623"/>
<rect x="1776.58" y="498.50" width="7.39" height="1.50" fill="#7ed321"/>
<rect x="1776.58" y="500.00" width="7.39" height="492.70" fill="#007bfc"/>
<rect x="1783.92" y="989.96" width="7.39" height="2.50" fill="#f5a623"/>
<rect x="1783.92" y="992.46" width="7.39" height="0.24" fill="#007bfc"/>
<rect x="1791.27" y="981.83" width="7.39" height="2.00" fill="#f5a623"/>
<rect x="1791.27" y="983.83" width="7.39" height="8.87" fill="#007bfc"/>
<rect x="1798.61" y="592.59" width="7.39" height="2.50" fill="#f5a623"/>
<rect x="1798.61" y="595.09" width="7.39" height="2.00" fill="#7ed321"/>
<rect x="1798.61" y="597.09" width="7.39" height="395.61" fill="#007bfc"/>
<rect x="1805.95" y="923.28" width="7.39" height="69.42" fill="#007bfc"/>
<rect x="1820.64" y="727.03" width="7.39" height="1.50" fill="#e94b35"/>
<rect x="1820.64" y="728.53" width="7.39" height="9.00" fill="#7ed321"/>
<rect x="1820.64" y="737.53" width="7.39" height="255.17" fill="#007bfc"/>
<rect x="1827.98" y="823.53" width="7.39" height="3.00" fill="#7ed321"/>
<rect x="1827.98" y="826.53" width="7.39" height="166.17" fill="#007bfc"/>
<rect x="1835.32" y="705.89" width="7.39" height="3.50" fill="#f5a623"/>
<rect x="1835.32" y="709.39" width="7.39" height="283.31" fill="#007bfc"/>
<rect x="1857.35" y="981.83" width="7.39" height="10.87" fill="#007bfc"/>
<rect x="1864.69" y="976.41" width="7.39" height="16.29" fill="#007bfc"/>
<rect x="1879.38" y="851.72" width="7.39" height="4.00" fill="#7ed321"/>
<rect x="1879.38" y="855.72" width="7.39" height="136.98" fill="#007bfc"/>
<rect x="1886.72" y="788.29" width="7.39" height="2.00" fill="#e94b35"/>
<rect x="1886.72" y="790.29" width="7.39" height="3.50" fill="#f5a623"/>
<rect x="1886.72" y="793.79" width="7.39" height="6.00" fill="#7ed321"/>
<rect x="1886.72" y="799.79" width="7.39" height="192.91" fill="#007bfc"/>
<rect x="1894.06" y="988.88" width="7.39" height="3.82" fill="#f5a623"/>
<rect x="1901.41" y="866.90" width="7.39" height="15.50" fill="#5ec6fa"/>
<rect x="1901.41" y="882.40" width="7.39" height="110.30" fill="#007bfc"/>
<rect x="1908.75" y="882.62" width="7.39" height="110.08" fill="#007bfc"/>
<rect x="1916.09" y="991.05" width="7.39" height="1.50" fill="#f5a623"/>
<rect x="1916.09" y="992.55" width="7.39" height="0.15" fill="#007bfc"/>
<rect x="1923.43" y="976.41" width="7.39" height="16.29" fill="#007bfc"/>
<rect x="1930.78" y="991.59" width="7.39" height="1.00" fill="#f5a623"/>
<rect x="1930.78" y="992.59" width="7.39" height="0.11" fill="#007bfc"/>
<rect x="1938.12" y="991.59" width="7.39" height="1.00" fill="#f5a623"/>
<rect x="1938.12" y="992.59" width="7.39" height="0.11" fill="#007bfc"/>
<rect x="1945.46" y="917.86" width="7.39" height="3.50" fill="#f5a623"/>
<rect x="1945.46" y="921.36" width="7.39" height="7.00" fill="#7ed321"/>
<rect x="1945.46" y="928.36" width="7.39" height="64.34" fill="#007bfc"/>
<rect x="1952.80" y="671.19" width="7.39" height="2.00" fill="#e94b35"/>
<rect x="1952.80" y="673.19" width="7.39" height="3.00" fill="#f5a623"/>
<rect x="1952.80" y="676.19" width="7.39" height="58.50" fill="#5ec6fa"/>
<rect x="1952.80" y="734.69" width="7.39" height="258.01" fill="#007bfc"/>
<rect x="1960.15" y="989.96" width="7.39" height="2.50" fill="#f5a623"/>
<rect x="1960.15" y="992.46" width="7.39" height="0.24" fill="#007bfc"/>
<rect x="1967.49" y="697.22" width="7.39" height="1.50" fill="#e94b35"/>
<rect x="1967.49" y="698.72" width="7.39" height="3.00" fill="#f5a623"/>
<rect x="1967.49" y="701.72" width="7.39" height="8.00" fill="#7ed321"/>
<rect x="1967.49" y="709.72" width="7.39" height="282.98" fill="#007bfc"/>
<rect x="1974.83" y="634.33" width="7.39" height="2.00" fill="#e94b35"/>
<rect x="1974.83" y="636.33" width="7.39" height="3.00" fill="#f5a623"/>
<rect x="1974.83" y="639.33" width="7.39" height="9.00" fill="#7ed321"/>
<rect x="1974.83" y="648.33" width="7.39" height="344.37" fill="#007bfc"/>
<rect x="1982.17" y="919.49" width="7.39" height="7.00" fill="#f5a623"/>
<rect x="1982.17" y="926.49" width="7.39" height="66.21" fill="#007bfc"/>
<rect x="1989.52" y="991.05" width="7.39" height="1.50" fill="#f5a623"/>
<rect x="1989.52" y="992.55" width="7.39" height="0.15" fill="#007bfc"/>
<rect x="1996.86" y="940.09" width="7.39" height="1.50" fill="#f5a623"/>
<rect x="1996.86" y="941.59" width="7.39" height="51.11" fill="#007bfc"/>
<rect x="2004.20" y="988.88" width="7.39" height="3.70" fill="#f5a623"/>
<rect x="2004.20" y="992.58" width="7.39" height="0.12" fill="#007bfc"/>
<rect x="2011.55" y="990.50" width="7.39" height="1.00" fill="#f5a623"/>
<rect x="2011.55" y="991.50" width="7.39" height="1.20" fill="#007bfc"/>
<rect x="2018.89" y="991.05" width="7.39" height="1.00" fill="#f5a623"/>
<rect x="2018.89" y="992.05" width="7.39" height="0.65" fill="#007bfc"/>
<rect x="2026.23" y="886.96" width="7.39" height="1.00" fill="#7ed321"/>
<rect x="2026.23" y="887.96" width="7.39" height="104.74" fill="#007bfc"/>
<rect x="2033.57" y="990.50" width="7.39" height="1.50" fill="#f5a623"/>
<rect x="2033.57" y="992.00" width="7.39" height="0.70" fill="#007bfc"/>
<rect x="2040.92" y="182.50" width="7.39" height="2.00" fill="#e94b35"/>
<rect x="2040.92" y="184.50" width="7.39" height="3.50" fill="#f5a623"/>
<rect x="2040.92" y="188.00" width="7.39" height="2.70" fill="#7ed321"/>
<rect x="2040.92" y="190.70" width="7.39" height="91.00" fill="#5ec6fa"/>
<rect x="2040.92" y="281.70" width="7.39" height="711.00" fill="#007bfc"/>
<rect x="2048.26" y="616.98" width="7.39" height="20.00" fill="#34c759"/>
<rect x="2048.26" y="636.98" width="7.39" height="3.00" fill="#f5a623"/>
<rect x="2048.26" y="639.98" width="7.39" height="352.72" fill="#5ec6fa"/>
<rect x="2055.60" y="622.94" width="7.39" height="3.00" fill="#7ed321"/>
<rect x="2055.60" y="625.94" width="7.39" height="3.00" fill="#f5a623"/>
<rect x="2055.60" y="628.94" width="7.39" height="354.50" fill="#5ec6fa"/>
<rect x="2055.60" y="983.44" width="7.39" height="9.26" fill="#007bfc"/>
<rect x="2062.94" y="991.59" width="7.39" height="1.00" fill="#f5a623"/>
<rect x="2062.94" y="992.59" width="7.39" height="0.11" fill="#007bfc"/>
<rect x="2070.29" y="991.59" width="7.39" height="1.00" fill="#f5a623"/>
<rect x="2070.29" y="992.59" width="7.39" height="0.11" fill="#007bfc"/>
<rect x="2077.63" y="991.59" width="7.39" height="1.00" fill="#f5a623"/>
<rect x="2077.63" y="992.59" width="7.39" height="0.11" fill="#007bfc"/>
<rect x="2084.97" y="936.83" width="7.39" height="1.00" fill="#f5a623"/>
<rect x="2084.97" y="937.83" width="7.39" height="54.87" fill="#5ec6fa"/>
<rect x="2092.31" y="991.59" width="7.39" height="1.11" fill="#f5a623"/>
<rect x="2099.66" y="991.59" width="7.39" height="1.11" fill="#f5a623"/>
</g>
<rect x="1057.0" y="181.7" width="1050.0" height="1.400" fill="#8a9aa6" fill-opacity="0.200"/>
<rect x="1057.0" y="343.7" width="1050.0" height="1.400" fill="#8a9aa6" fill-opacity="0.200"/>
<rect x="1057.0" y="505.7" width="1050.0" height="1.400" fill="#8a9aa6" fill-opacity="0.200"/>
<rect x="1057.0" y="667.7" width="1050.0" height="1.400" fill="#8a9aa6" fill-opacity="0.200"/>
<rect x="1057.0" y="829.7" width="1050.0" height="1.400" fill="#8a9aa6" fill-opacity="0.200"/>
<rect x="1057.0" y="991.9" width="1050.0" height="1.400" fill="#8a9aa6" fill-opacity="0.200"/>
<text x="1058.50" y="165.20" font-size="33" fill="#939393" textLength="80.45" lengthAdjust="spacingAndGlyphs">10.6K</text>
<text x="1058.50" y="327.20" font-size="33" fill="#939393" textLength="63.07" lengthAdjust="spacingAndGlyphs">8.4K</text>
<text x="1058.50" y="489.20" font-size="33" fill="#939393" textLength="63.07" lengthAdjust="spacingAndGlyphs">6.3K</text>
<text x="1058.50" y="651.20" font-size="33" fill="#939393" textLength="63.07" lengthAdjust="spacingAndGlyphs">4.2K</text>
<text x="1058.50" y="813.20" font-size="33" fill="#939393" textLength="63.07" lengthAdjust="spacingAndGlyphs">2.1K</text>
<text x="1058.50" y="975.40" font-size="33" fill="#939393" textLength="17.04" lengthAdjust="spacingAndGlyphs">0</text>
<text x="1060.50" y="1042.00" font-size="33" fill="#939393" textLength="96.95" lengthAdjust="spacingAndGlyphs">Dec 28</text>
<text x="1297.50" y="1042.00" font-size="33" fill="#939393" textLength="95.92" lengthAdjust="spacingAndGlyphs">Jan 29</text>
<text x="1541.70" y="1042.00" font-size="33" fill="#939393" textLength="80.04" lengthAdjust="spacingAndGlyphs">Mar 1</text>
<text x="1782.00" y="1042.00" font-size="33" fill="#939393" textLength="74.51" lengthAdjust="spacingAndGlyphs">Apr 2</text>
<text x="2012.70" y="1042.00" font-size="33" fill="#939393" textLength="86.44" lengthAdjust="spacingAndGlyphs">May 4</text>
<rect x="1059" y="1096.600" width="1046" height="20" rx="9" fill="#c6d3db"/>
<text x="2204.30" y="66.60" font-size="42.3" fill="#222222" font-weight="bold" textLength="168.51" lengthAdjust="spacingAndGlyphs">Followers</text>
<text y="64.30" font-size="35.5" fill="#222222" stroke="#222222" stroke-width="0.6" xml:space="preserve"><tspan x="2785.30" textLength="188.63" lengthAdjust="spacingAndGlyphs">22 Dec 2019</tspan><tspan x="2977.60" font-size="1"> </tspan><tspan x="2985.60" textLength="23.10" lengthAdjust="spacingAndGlyphs">—</tspan><tspan x="3010.70" font-size="1"> </tspan><tspan x="3020.10" textLength="195.96" lengthAdjust="spacingAndGlyphs">12 May 2020</tspan></text>
<rect x="2202.0" y="173.7" width="1015.0" height="1.400" fill="#8a9aa6" fill-opacity="0.200"/>
<text x="2203.50" y="156.94" font-size="32" fill="#939393" textLength="50.46" lengthAdjust="spacingAndGlyphs">126</text>
<rect x="2202.0" y="343.0" width="1015.0" height="1.400" fill="#8a9aa6" fill-opacity="0.200"/>
<text x="2203.50" y="326.20" font-size="32" fill="#939393" textLength="50.95" lengthAdjust="spacingAndGlyphs">100</text>
<rect x="2202.0" y="505.7" width="1015.0" height="1.400" fill="#8a9aa6" fill-opacity="0.200"/>
<text x="2203.50" y="488.95" font-size="32" fill="#939393" textLength="34.07" lengthAdjust="spacingAndGlyphs">75</text>
<rect x="2202.0" y="668.5" width="1015.0" height="1.400" fill="#8a9aa6" fill-opacity="0.200"/>
<text x="2203.50" y="651.70" font-size="32" fill="#939393" textLength="34.07" lengthAdjust="spacingAndGlyphs">50</text>
<rect x="2202.0" y="831.2" width="1015.0" height="1.400" fill="#8a9aa6" fill-opacity="0.200"/>
<text x="2203.50" y="814.45" font-size="32" fill="#939393" textLength="34.07" lengthAdjust="spacingAndGlyphs">25</text>
<rect x="2202.0" y="994.0" width="1015.0" height="1.400" fill="#8a9aa6" fill-opacity="0.200"/>
<text x="2203.50" y="977.20" font-size="32" fill="#939393" textLength="15.53" lengthAdjust="spacingAndGlyphs">0</text>
<text x="2199.50" y="1042.20" font-size="33" fill="#939393" textLength="93.46" lengthAdjust="spacingAndGlyphs">Dec 28</text>
<text x="2428.70" y="1042.20" font-size="33" fill="#939393" textLength="92.92" lengthAdjust="spacingAndGlyphs">Jan 29</text>
<text x="2662.70" y="1042.20" font-size="33" fill="#939393" textLength="78.64" lengthAdjust="spacingAndGlyphs">Mar 1</text>
<text x="2895.00" y="1042.20" font-size="33" fill="#939393" textLength="73.01" lengthAdjust="spacingAndGlyphs">Apr 2</text>
<text x="3119.20" y="1042.20" font-size="33" fill="#939393" textLength="83.15" lengthAdjust="spacingAndGlyphs">May 4</text>
<polyline points="2195.5,991.7 2202.6,991.7 2209.8,991.7 2216.9,991.7 2224.1,991.7 2231.2,991.7 2238.4,991.7 2245.5,991.7 2252.6,972.3 2259.8,978.7 2266.9,926.9 2274.1,557.3 2281.2,991.7 2288.3,972.3 2295.5,512.0 2302.6,952.8 2309.8,959.3 2316.9,939.8 2324.1,991.7 2331.2,952.8 2338.3,939.8 2345.5,991.7 2352.6,687.0 2359.8,732.4 2366.9,460.1 2374.1,531.4 2381.2,842.6 2388.3,803.7 2395.5,978.7 2402.6,693.5 2409.8,972.3 2416.9,972.3 2424.0,991.7 2431.2,816.7 2438.3,641.6 2445.5,777.8 2452.6,751.8 2459.8,693.5 2466.9,693.5 2474.0,544.4 2481.2,700.0 2488.3,615.7 2495.5,654.6 2502.6,609.2 2509.7,732.4 2516.9,764.8 2524.0,622.2 2531.2,654.6 2538.3,706.4 2545.5,946.3 2552.6,570.3 2559.7,583.3 2566.9,473.1 2574.0,764.8 2581.2,687.0 2588.3,712.9 2595.5,440.6 2602.6,421.2 2609.7,635.1 2616.9,512.0 2624.0,447.1 2631.2,667.6 2638.3,881.5 2645.4,706.4 2652.6,991.7 2659.7,797.2 2666.9,738.9 2674.0,641.6 2681.2,881.5 2688.3,784.2 2695.4,693.5 2702.6,700.0 2709.7,712.9 2716.9,803.7 2724.0,648.1 2731.2,667.6 2738.3,680.5 2745.4,777.8 2752.6,738.9 2759.7,654.6 2766.9,894.5 2774.0,706.4 2781.1,991.7 2788.3,862.0 2795.4,810.2 2802.6,842.6 2809.7,557.3 2816.9,719.4 2824.0,661.1 2831.1,991.7 2838.3,991.7 2845.4,991.7 2852.6,978.7 2859.7,991.7 2866.8,978.7 2874.0,978.7 2881.1,952.8 2888.3,628.7 2895.4,700.0 2902.6,978.7 2909.7,978.7 2916.8,933.4 2924.0,991.7 2931.1,991.7 2938.3,972.3 2945.4,758.3 2952.6,952.8 2959.7,991.7 2966.8,725.9 2974.0,972.3 2981.1,991.7 2988.3,978.7 2995.4,991.7 3002.5,978.7 3009.7,972.3 3016.8,972.3 3024.0,991.7 3031.1,965.8 3038.3,991.7 3045.4,991.7 3052.5,991.7 3059.7,965.8 3066.8,959.3 3074.0,700.0 3081.1,427.7 3088.2,596.2 3095.4,174.8 3102.5,213.7 3109.7,570.3 3116.8,557.3 3124.0,972.3 3131.1,991.7 3138.2,991.7 3145.4,978.7 3152.5,991.7 3159.7,991.7 3166.8,991.7 3174.0,991.7 3181.1,991.7 3188.2,991.7 3195.4,991.7 3202.5,991.7 3209.7,991.7 3216.8,991.7" fill="none" stroke="#3cc45e" stroke-width="5.600" stroke-linejoin="round" stroke-linecap="square"/>
</svg>
</body></html>
